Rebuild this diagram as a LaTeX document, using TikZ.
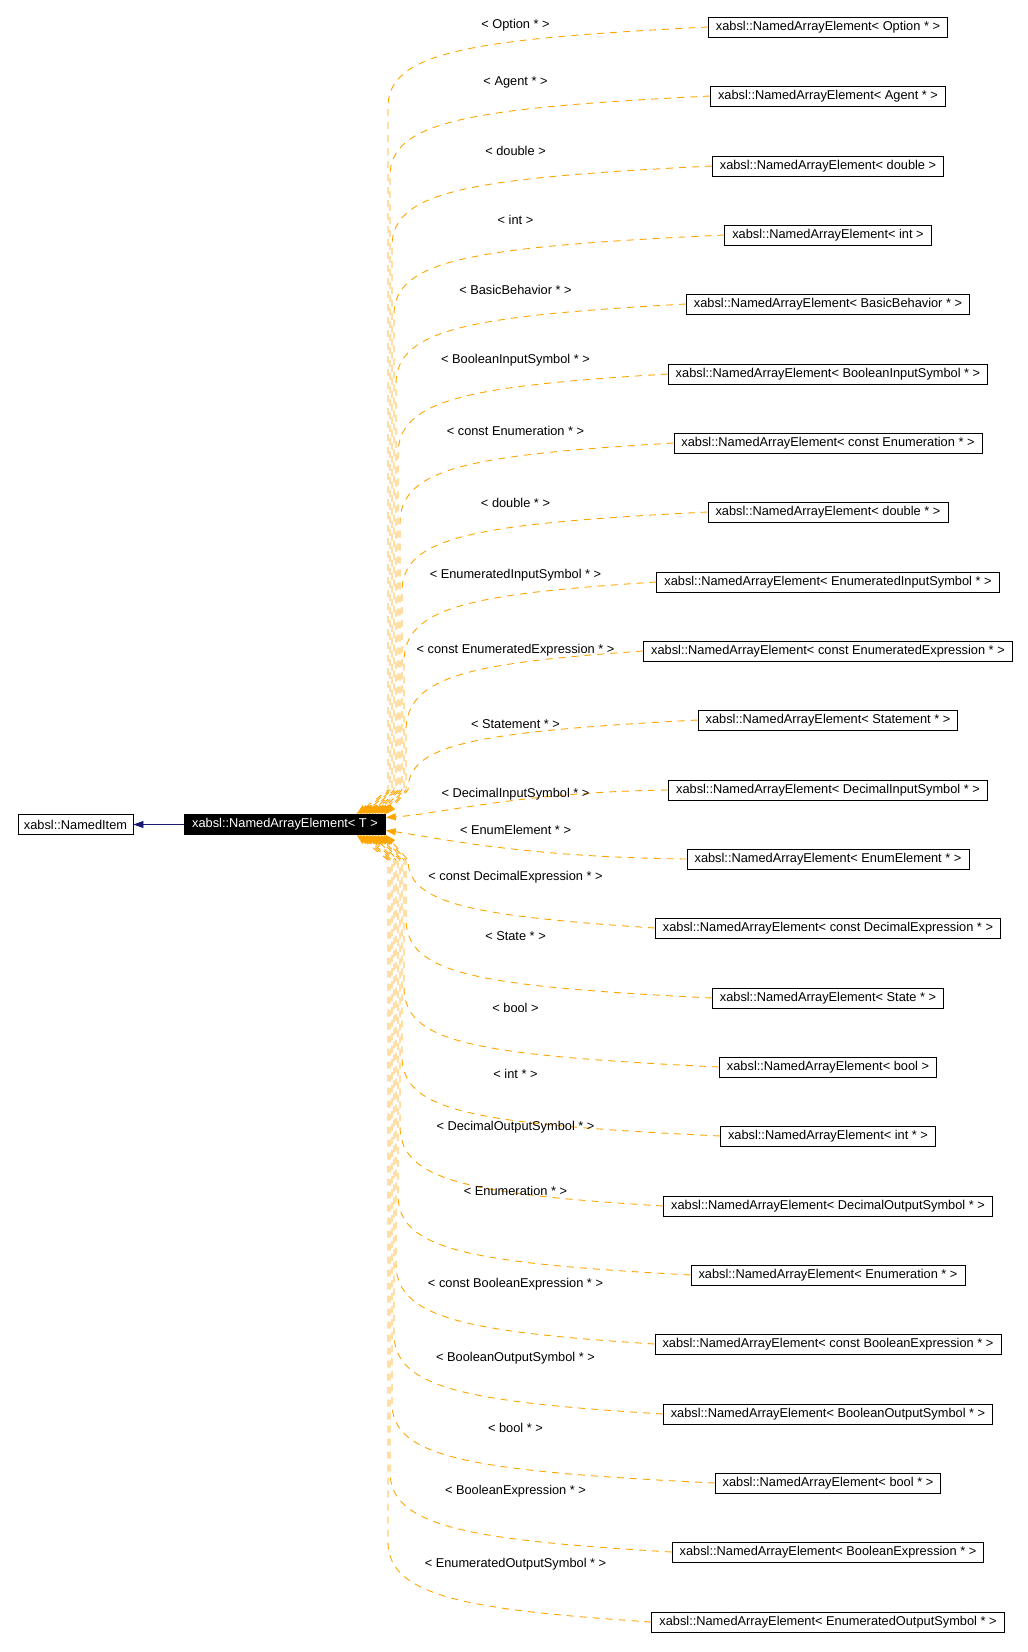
\documentclass[tikz,border=0pt]{standalone}
\usepackage{fontspec}
\setmainfont{Liberation Sans}
\usepackage{tikz}
\usetikzlibrary{arrows.meta}
\usetikzlibrary{positioning}

\definecolor{edgeorange}{HTML}{FFA500}
\definecolor{edgenavy}{HTML}{191970}

\tikzset{
  cls/.style={draw, line width=0.8pt, inner xsep=7.5pt, inner ysep=0pt,
    minimum height=20pt, font=\fontsize{12.8pt}{15pt}\selectfont},
  cur/.style={cls, fill=black, text=white},
  lbl/.style={inner sep=0pt, font=\fontsize{12.8pt}{15pt}\selectfont},
  inst/.style={draw=edgeorange, line width=0.9pt, dash pattern=on 7pt off 6pt,
    -{Triangle[length=10pt,width=7pt,fill=edgeorange]}},
  inherit/.style={draw=edgenavy, line width=0.9pt,
    -{Triangle[length=10pt,width=7pt,fill=edgenavy]}}
}

\begin{document}
\begin{tikzpicture}[x=1pt,y=-1pt]
				\useasboundingbox (0,0) rectangle (1028,1652);

					% base class and template
					\node[cls, inner xsep=6pt] (item) at (75.5,824.5) {xabsl::NamedItem};
					\node[cur] (nae) at (285,824.5) {xabsl::NamedArrayElement< T >};
					\draw[inherit] (nae.west) -- (item.east);

					% instances
					\node[cls] (option) at (828,27) {xabsl::NamedArrayElement< Option * >};
					\node[cls] (agent) at (828,96) {xabsl::NamedArrayElement< Agent * >};
					\node[cls] (double) at (828,166) {xabsl::NamedArrayElement< double >};
					\node[cls] (int) at (828,235) {xabsl::NamedArrayElement< int >};
					\node[cls] (basicbehavior) at (828,304) {xabsl::NamedArrayElement< BasicBehavior * >};
					\node[cls] (boolinput) at (828,374) {xabsl::NamedArrayElement< BooleanInputSymbol * >};
					\node[cls] (constenum) at (828,443) {xabsl::NamedArrayElement< const Enumeration * >};
					\node[cls] (doubleptr) at (828,512) {xabsl::NamedArrayElement< double * >};
					\node[cls] (enuminput) at (828,582) {xabsl::NamedArrayElement< EnumeratedInputSymbol * >};
					\node[cls] (constenumexpr) at (828,651) {xabsl::NamedArrayElement< const EnumeratedExpression * >};
					\node[cls] (statement) at (828,720) {xabsl::NamedArrayElement< Statement * >};
					\node[cls] (decinput) at (828,790) {xabsl::NamedArrayElement< DecimalInputSymbol * >};
					\node[cls] (enumelement) at (828,859) {xabsl::NamedArrayElement< EnumElement * >};
					\node[cls] (constdecexpr) at (828,928) {xabsl::NamedArrayElement< const DecimalExpression * >};
					\node[cls] (state) at (828,998) {xabsl::NamedArrayElement< State * >};
					\node[cls] (bool) at (828,1067) {xabsl::NamedArrayElement< bool >};
					\node[cls] (intptr) at (828,1136) {xabsl::NamedArrayElement< int * >};
					\node[cls] (decoutput) at (828,1206) {xabsl::NamedArrayElement< DecimalOutputSymbol * >};
					\node[cls] (enumeration) at (828,1275) {xabsl::NamedArrayElement< Enumeration * >};
					\node[cls] (constboolexpr) at (828,1344) {xabsl::NamedArrayElement< const BooleanExpression * >};
					\node[cls] (booloutput) at (828,1414) {xabsl::NamedArrayElement< BooleanOutputSymbol * >};
					\node[cls] (boolptr) at (828,1483) {xabsl::NamedArrayElement< bool * >};
					\node[cls] (boolexpr) at (828,1552) {xabsl::NamedArrayElement< BooleanExpression * >};
					\node[cls] (enumoutput) at (828,1622) {xabsl::NamedArrayElement< EnumeratedOutputSymbol * >};

					% upper edges
					\draw[inst] (option.west) .. controls (470,39) and (388,52) .. (388,107) -- (388,790) -- ([xshift=-29pt]nae.north east);
					\draw[inst] (agent.west) .. controls (470,108) and (390,121) .. (390,176) -- (390,790) -- ([xshift=-26pt]nae.north east);
					\draw[inst] (double.west) .. controls (470,178) and (392,191) .. (392,246) -- (392,790) -- ([xshift=-23pt]nae.north east);
					\draw[inst] (int.west) .. controls (470,247) and (394,260) .. (394,315) -- (394,790) -- ([xshift=-20pt]nae.north east);
					\draw[inst] (basicbehavior.west) .. controls (470,316) and (396,329) .. (396,384) -- (396,790) -- ([xshift=-17pt]nae.north east);
					\draw[inst] (boolinput.west) .. controls (470,386) and (398,399) .. (398,454) -- (398,790) -- ([xshift=-14pt]nae.north east);
					\draw[inst] (constenum.west) .. controls (470,455) and (400,468) .. (400,523) -- (400,790) -- ([xshift=-11pt]nae.north east);
					\draw[inst] (doubleptr.west) .. controls (470,524) and (402,537) .. (402,592) -- (402,790) -- ([xshift=-8pt]nae.north east);
					\draw[inst] (enuminput.west) .. controls (470,594) and (404,607) .. (404,662) -- (404,790) -- ([xshift=-5pt]nae.north east);
					\draw[inst] (constenumexpr.west) .. controls (470,663) and (406,676) .. (406,731) -- (406,790) -- ([xshift=-2pt]nae.north east);
					\draw[inst] (statement.west) .. controls (470,732) and (408,745) .. (408,790) -- (nae.north east);

					% middle edges
					\draw[inst] (decinput.west) .. controls (520,792) and (440,814) .. ([yshift=7pt]nae.east);
					\draw[inst] (enumelement.west) .. controls (520,857) and (440,838) .. ([yshift=-6pt]nae.east);

					% lower edges
					\draw[inst] (constdecexpr.west) .. controls (470,916) and (408,903) .. (408,860) -- (nae.south east);
					\draw[inst] (state.west) .. controls (470,986) and (406,973) .. (406,918) -- (406,860) -- ([xshift=-2pt]nae.south east);
					\draw[inst] (bool.west) .. controls (470,1055) and (404,1042) .. (404,987) -- (404,860) -- ([xshift=-5pt]nae.south east);
					\draw[inst] (intptr.west) .. controls (470,1124) and (402,1111) .. (402,1056) -- (402,860) -- ([xshift=-8pt]nae.south east);
					\draw[inst] (decoutput.west) .. controls (470,1194) and (400,1181) .. (400,1126) -- (400,860) -- ([xshift=-11pt]nae.south east);
					\draw[inst] (enumeration.west) .. controls (470,1263) and (398,1250) .. (398,1195) -- (398,860) -- ([xshift=-14pt]nae.south east);
					\draw[inst] (constboolexpr.west) .. controls (470,1332) and (396,1319) .. (396,1264) -- (396,860) -- ([xshift=-17pt]nae.south east);
					\draw[inst] (booloutput.west) .. controls (470,1402) and (394,1389) .. (394,1334) -- (394,860) -- ([xshift=-20pt]nae.south east);
					\draw[inst] (boolptr.west) .. controls (470,1471) and (392,1458) .. (392,1403) -- (392,860) -- ([xshift=-23pt]nae.south east);
					\draw[inst] (boolexpr.west) .. controls (470,1540) and (390,1527) .. (390,1472) -- (390,860) -- ([xshift=-26pt]nae.south east);
					\draw[inst] (enumoutput.west) .. controls (470,1610) and (388,1597) .. (388,1542) -- (388,860) -- ([xshift=-29pt]nae.south east);

					% edge labels
					\node[lbl] (optionlbl) at (515.5,25) {< Option * >};
					\node[lbl] (agentlbl) at (515.5,82) {< Agent * >};
					\node[lbl] (doublelbl) at (515.5,151) {< double >};
					\node[lbl] (intlbl) at (515.5,220) {< int >};
					\node[lbl] (basicbehaviorlbl) at (515.5,290) {< BasicBehavior * >};
					\node[lbl] (boolinputlbl) at (515.5,360) {< BooleanInputSymbol * >};
					\node[lbl] (constenumlbl) at (515.5,431) {< const Enumeration * >};
					\node[lbl] (doubleptrlbl) at (515.5,503) {< double * >};
					\node[lbl] (enuminputlbl) at (515.5,575) {< EnumeratedInputSymbol * >};
					\node[lbl] (constenumexprlbl) at (515.5,650) {< const EnumeratedExpression * >};
					\node[lbl] (statementlbl) at (515.5,724) {< Statement * >};
					\node[lbl] (decinputlbl) at (515.5,794) {< DecimalInputSymbol * >};
					\node[lbl] (enumelementlbl) at (515.5,830) {< EnumElement * >};
					\node[lbl] (constdecexprlbl) at (515.5,877) {< const DecimalExpression * >};
					\node[lbl] (statelbl) at (515.5,936) {< State * >};
					\node[lbl] (boollbl) at (515.5,1008) {< bool >};
					\node[lbl] (intptrlbl) at (515.5,1074) {< int * >};
					\node[lbl] (decoutputlbl) at (515.5,1127) {< DecimalOutputSymbol * >};
					\node[lbl] (enumerationlbl) at (515.5,1191) {< Enumeration * >};
					\node[lbl] (constboolexprlbl) at (515.5,1284) {< const BooleanExpression * >};
					\node[lbl] (booloutputlbl) at (515.5,1358) {< BooleanOutputSymbol * >};
					\node[lbl] (boolptrlbl) at (515.5,1428) {< bool * >};
					\node[lbl] (boolexprlbl) at (515.5,1491) {< BooleanExpression * >};
					\node[lbl] (enumoutputlbl) at (515.5,1564) {< EnumeratedOutputSymbol * >};

				\end{tikzpicture}
\end{document}
